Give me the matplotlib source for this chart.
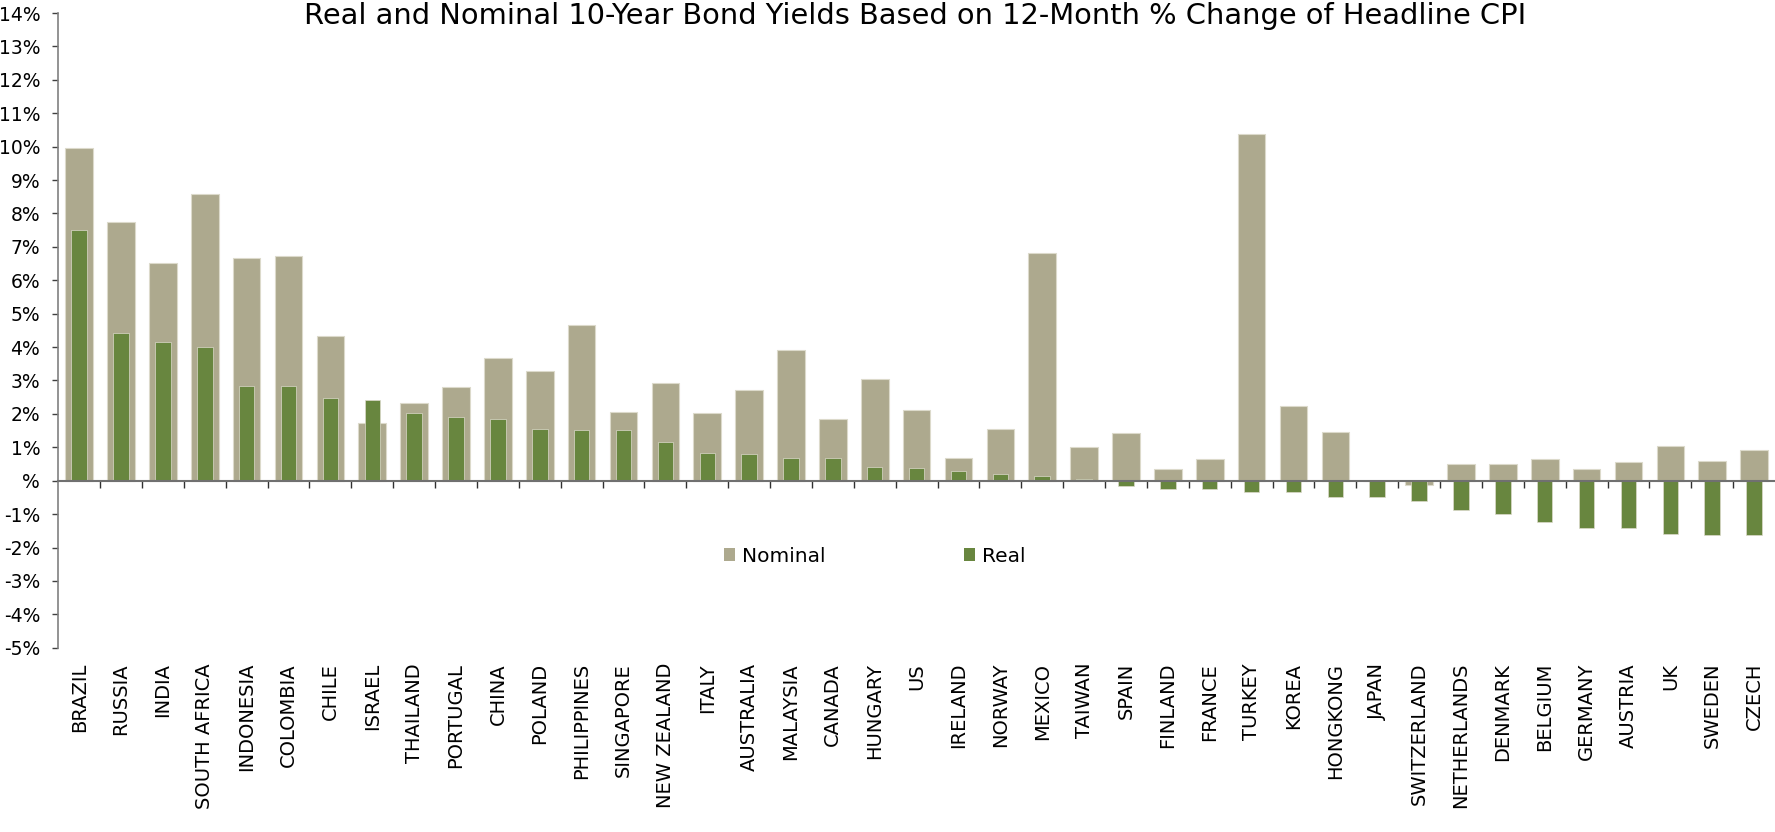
import numpy as np
import matplotlib
matplotlib.use("Agg")
import matplotlib.pyplot as plt
from matplotlib.patches import Patch

countries = ["BRAZIL", "RUSSIA", "INDIA", "SOUTH AFRICA", "INDONESIA", "COLOMBIA",
             "CHILE", "ISRAEL", "THAILAND", "PORTUGAL", "CHINA", "POLAND",
             "PHILIPPINES", "SINGAPORE", "NEW ZEALAND", "ITALY", "AUSTRALIA",
             "MALAYSIA", "CANADA", "HUNGARY", "US", "IRELAND", "NORWAY", "MEXICO",
             "TAIWAN", "SPAIN", "FINLAND", "FRANCE", "TURKEY", "KOREA", "HONGKONG",
             "JAPAN", "SWITZERLAND", "NETHERLANDS", "DENMARK", "BELGIUM", "GERMANY",
             "AUSTRIA", "UK", "SWEDEN", "CZECH"]

# 10-year yields, percent
nominal = [9.95, 7.74, 6.52, 8.57, 6.68, 6.72, 4.33, 1.72, 2.34, 2.81, 3.66, 3.28,
           4.65, 2.06, 2.92, 2.03, 2.72, 3.91, 1.84, 3.04, 2.11, 0.67, 1.54, 6.82,
           1.02, 1.44, 0.34, 0.65, 10.38, 2.25, 1.46, 0.0, -0.14, 0.50, 0.50, 0.65,
           0.35, 0.56, 1.03, 0.58, 0.91]
real = [7.50, 4.42, 4.16, 4.00, 2.85, 2.84, 2.48, 2.42, 2.02, 1.91, 1.86, 1.55,
        1.53, 1.51, 1.17, 0.84, 0.79, 0.69, 0.67, 0.40, 0.38, 0.29, 0.20, 0.14,
        0.05, -0.16, -0.24, -0.24, -0.33, -0.34, -0.48, -0.50, -0.61, -0.88,
        -1.01, -1.24, -1.42, -1.43, -1.60, -1.63, -1.63]

y_ticks = list(range(-5, 15))
y_labels = [("%d%%" % v) if v != 0 else "%" for v in y_ticks]

NOM_COLOR = "#ADA98E"
REAL_COLOR = "#68863F"
EDGE = "#DCDACB"

plt.rcParams["font.family"] = "DejaVu Sans"

fig = plt.figure(figsize=(17.75, 8.32), dpi=100)
ax = fig.add_axes([0.0328, 0.2215, 0.9672, 0.7628])

x = np.arange(len(countries))
ax.bar(x, nominal, width=0.66, color=NOM_COLOR, edgecolor=EDGE, linewidth=0.8, zorder=2)
ax.bar(x, real, width=0.37, color=REAL_COLOR, edgecolor=EDGE, linewidth=0.5, zorder=3)

ax.set_xlim(-0.5, len(countries) - 0.5)
ax.set_ylim(-5, 14)

# y axis
ax.set_yticks(y_ticks)
ax.set_yticklabels(y_labels, fontsize=13.5)
ax.tick_params(axis="y", direction="out", length=4, width=1, color="#404040", pad=9)
ax.spines["left"].set_color("#808080")
ax.spines["left"].set_linewidth(1.2)

# category axis sits on the zero line, ticks between categories
ax.spines["bottom"].set_position(("data", 0))
ax.spines["bottom"].set_color("#707070")
ax.spines["bottom"].set_linewidth(1.5)
ax.spines["bottom"].set_zorder(4)
ax.spines["top"].set_visible(False)
ax.spines["right"].set_visible(False)
ax.set_xticks(x[:-1] + 0.5)
ax.tick_params(axis="x", direction="out", length=5, width=1, color="#303030",
               labelbottom=False)

# country names along the bottom of the plot area
sec = ax.secondary_xaxis("bottom")
sec.set_xticks(x)
sec.set_xticklabels(countries, rotation=90, fontsize=14)
sec.tick_params(length=0, pad=11)
sec.spines["bottom"].set_visible(False)

fig.text(0.5153, 0.981, "Real and Nominal 10-Year Bond Yields Based on 12-Month % Change of Headline CPI",
         ha="center", va="center", fontsize=20.8)

handles = [Patch(facecolor=NOM_COLOR, label="Nominal"),
           Patch(facecolor=REAL_COLOR, label="Real")]
fig.legend(handles=handles, loc="center left", bbox_to_anchor=(724 / 1775, 1 - 556 / 832),
           ncol=2, frameon=False, fontsize=14.5, handlelength=0.57, handleheight=0.57,
           handletextpad=0.3, columnspacing=6.9, borderpad=0, borderaxespad=0)

fig.savefig("out.png", dpi=100)
